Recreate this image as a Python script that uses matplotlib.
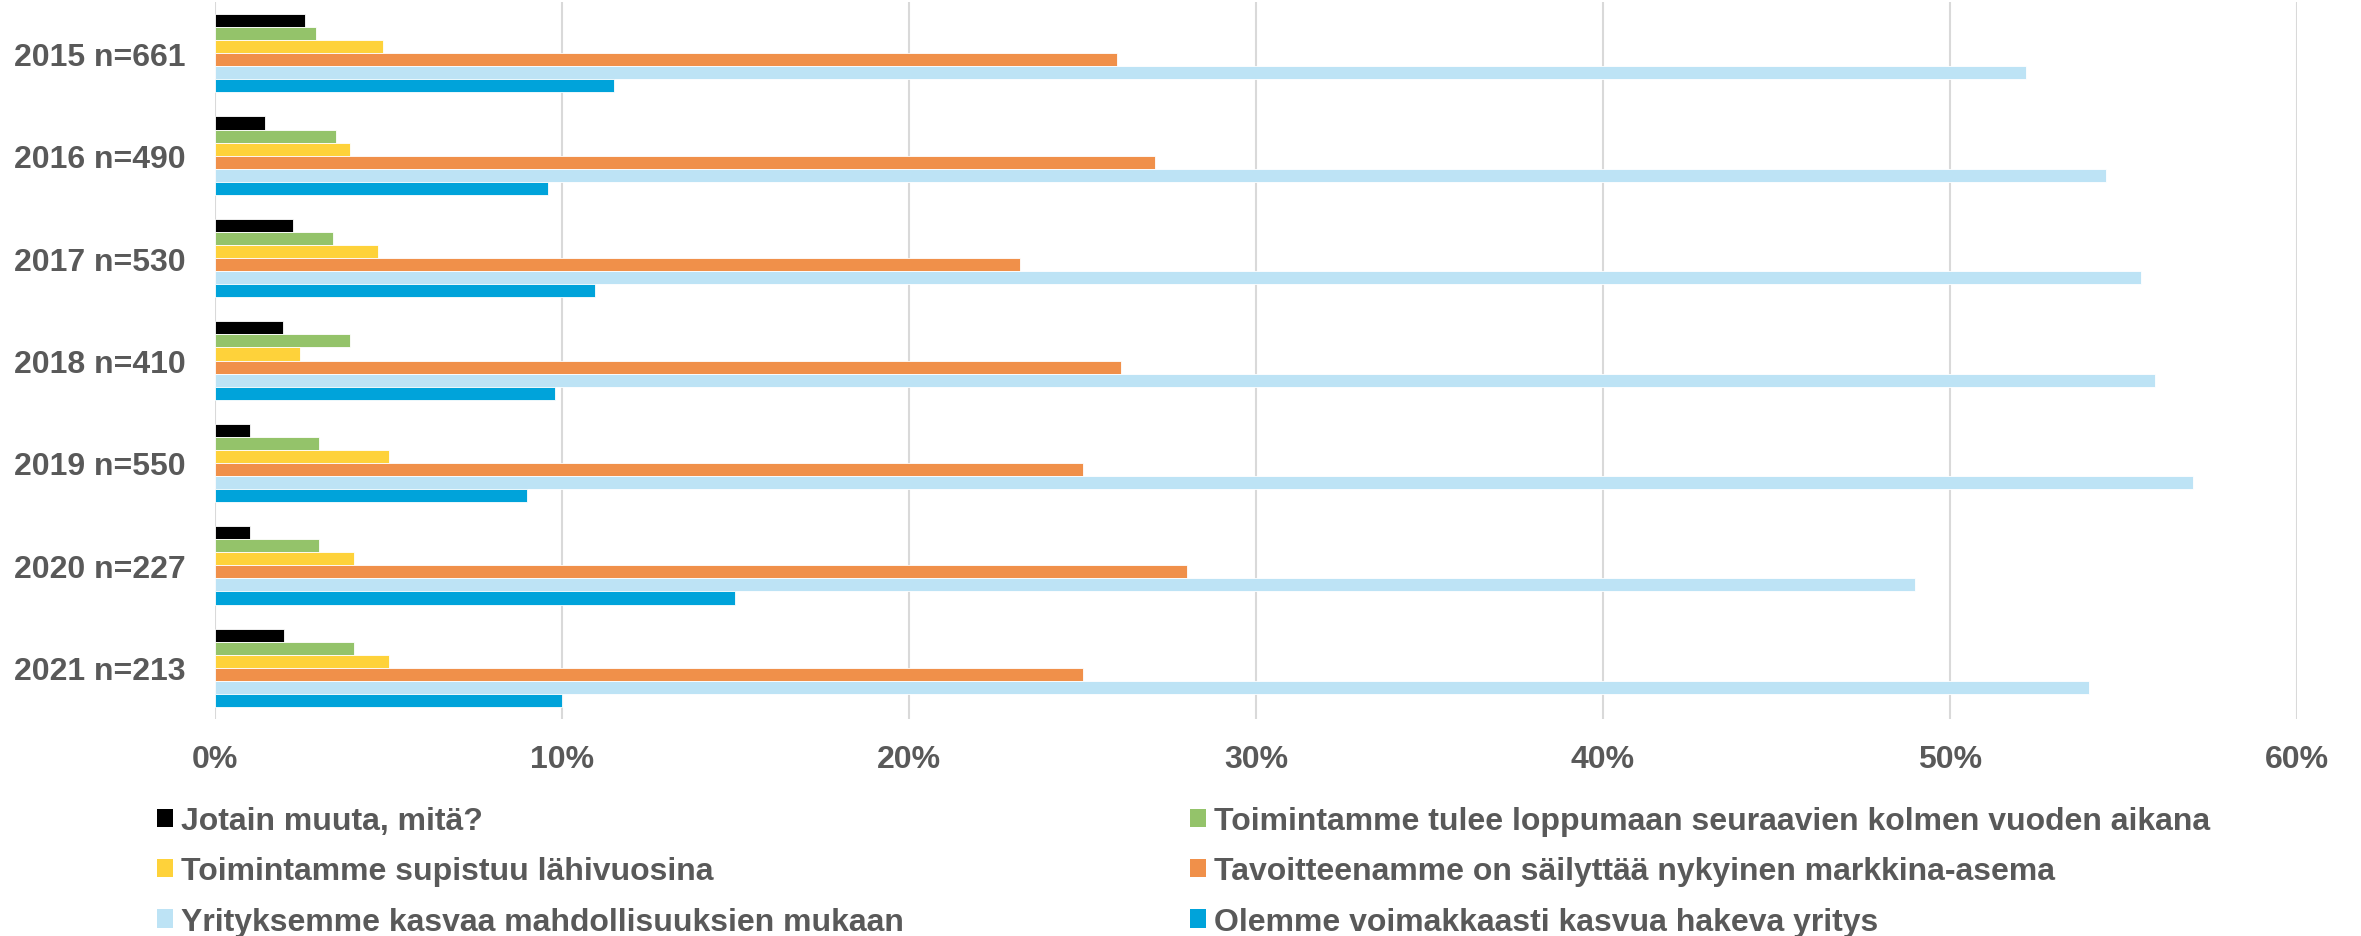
import matplotlib
matplotlib.use("Agg")
import matplotlib.pyplot as plt
from matplotlib.patches import Patch
from matplotlib.ticker import FuncFormatter
import numpy as np

plt.rcParams['font.family'] = ['Liberation Sans', 'DejaVu Sans']

categories = ["2015 n=661", "2016 n=490", "2017 n=530", "2018 n=410",
              "2019 n=550", "2020 n=227", "2021 n=213"]

series_names = [
    "Jotain muuta, mitä?",
    "Toimintamme tulee loppumaan seuraavien kolmen vuoden aikana",
    "Toimintamme supistuu lähivuosina",
    "Tavoitteenamme on säilyttää nykyinen markkina-asema",
    "Yrityksemme kasvaa mahdollisuuksien mukaan",
    "Olemme voimakkaasti kasvua hakeva yritys",
]

jotain = [2.6, 1.45, 2.25, 1.95, 1.0, 1.0, 2.0]
loppuu = [2.9, 3.5, 3.4, 3.9, 3.0, 3.0, 4.0]
supistuu = [4.85, 3.9, 4.7, 2.45, 5.0, 4.0, 5.0]
sailyttaa = [26.0, 27.1, 23.2, 26.1, 25.0, 28.0, 25.0]
kasvaa = [52.2, 54.5, 55.5, 55.9, 57.0, 49.0, 54.0]
voimakkaasti = [11.5, 9.6, 10.95, 9.8, 9.0, 15.0, 10.0]

series_values = [jotain, loppuu, supistuu, sailyttaa, kasvaa, voimakkaasti]
colors = ["#000000", "#94C36A", "#FED23A", "#F0904A", "#BDE3F5", "#00A3DA"]

W, H = 2361, 937
fig = plt.figure(figsize=(W / 100, H / 100), dpi=100)
ax = fig.add_axes([215 / W, 1 - 720 / H, (2297 - 215) / W, (720 - 3) / H])

y = np.arange(len(categories))
h = 0.1275
n = len(series_values)
for i, (vals, col) in enumerate(zip(series_values, colors)):
    offs = (i - (n - 1) / 2) * h
    ax.barh(y + offs, np.array(vals) / 100.0, height=h, color=col,
            edgecolor="white", linewidth=0.6, zorder=3)

ax.set_xlim(0, 0.6)
ax.set_ylim(len(categories) - 0.5, -0.5)
ax.set_yticks(y)
ax.set_yticklabels(categories)
ax.set_xticks(np.arange(0, 0.61, 0.1))
ax.xaxis.set_major_formatter(FuncFormatter(lambda v, p: f"{v*100:.0f}%"))

ax.grid(axis="x", color="#D9D9D9", linewidth=1.5, zorder=0)
for s in ax.spines.values():
    s.set_visible(False)
ax.tick_params(axis="both", length=0, labelsize=23, labelcolor="#595959")
ax.tick_params(axis="x", pad=18)
ax.tick_params(axis="y", pad=21)
for lbl in ax.get_xticklabels() + ax.get_yticklabels():
    lbl.set_fontweight("bold")

handles = [Patch(facecolor=c, edgecolor="none") for c in colors]
left_idx = [0, 2, 4]
right_idx = [1, 3, 5]
for idx, xpos in ((left_idx, 157 / W), (right_idx, 1190 / W)):
    leg = fig.legend([handles[i] for i in idx], [series_names[i] for i in idx],
                     loc="upper left", bbox_to_anchor=(xpos, 1 - 807 / H),
                     frameon=False, ncol=1, handlelength=0.5, handleheight=0.5,
                     handletextpad=0.25, labelspacing=0.64, borderpad=0,
                     borderaxespad=0,
                     prop={"size": 23, "weight": "bold"})
    for t in leg.get_texts():
        t.set_color("#595959")

fig.savefig("out.png", dpi=100)
